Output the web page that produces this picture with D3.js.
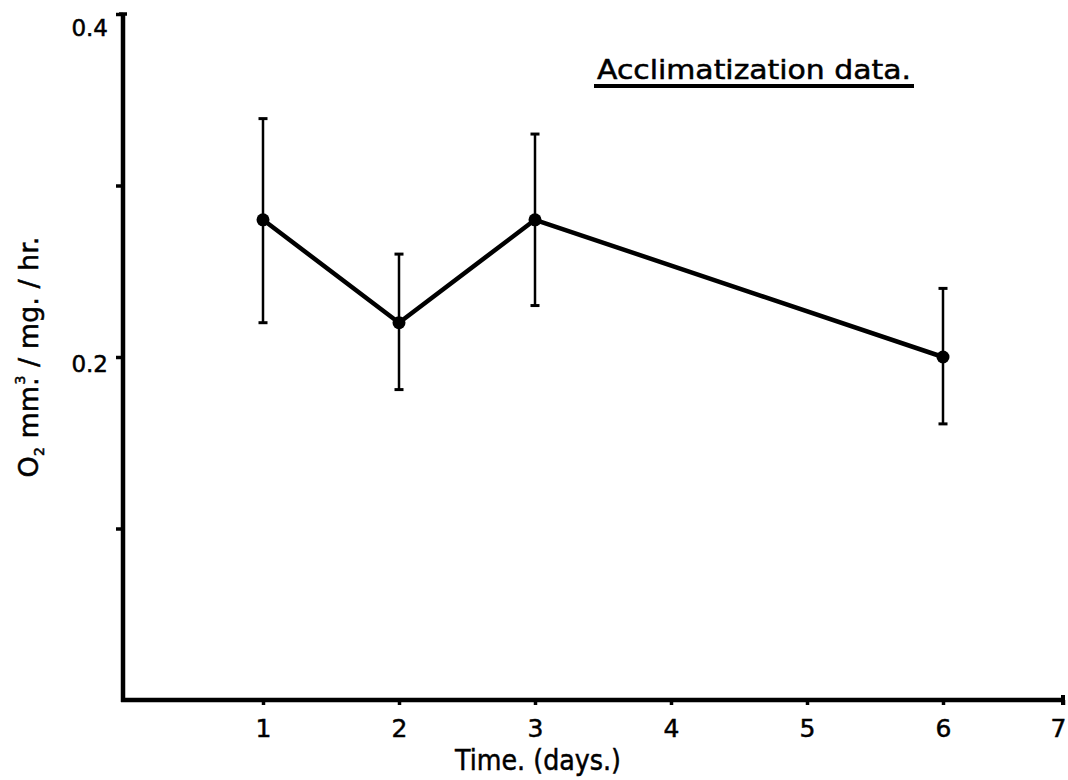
<!DOCTYPE html>
<html><head><meta charset="utf-8">
<script src="https://cdn.jsdelivr.net/npm/d3@7"></script>
<style>
html,body{margin:0;padding:0;background:#fff;}
svg{display:block;}
text{font-family:"DejaVu Sans",sans-serif;fill:#000;stroke:#000;stroke-width:0.5px;}
</style></head>
<body>
<svg id="chart" width="1068" height="780"></svg>
<script>
// ---- data ----
const days = [1, 2, 3, 6];
const o2Rate = [0.28, 0.22, 0.28, 0.20];
const errHigh = [0.339, 0.260, 0.330, 0.240];
const errLow = [0.220, 0.181, 0.230, 0.161];
const xTicks = [1, 2, 3, 4, 5, 6, 7];
const yTicks = [0.1, 0.2, 0.3, 0.4];
const yTickLabels = {0.2: "0.2", 0.4: "0.4"};
const title = "Acclimatization data.";
const xTitle = "Time. (days.)";

const svg = d3.select("#chart");
const x0 = 123, y0 = 700;
const x = d3.scaleLinear().domain([0, 6, 7]).range([127, 943, 1063]);
const y = d3.scaleLinear().domain([0, 0.4]).range([y0, 14]);

// axes lines
svg.append("line").attr("x1", x0).attr("x2", x0).attr("y1", y(0.4)).attr("y2", y0 + 2)
  .attr("stroke", "#000").attr("stroke-width", 4.5);
svg.append("line").attr("x1", x0 - 2).attr("x2", x(7)).attr("y1", y0).attr("y2", y0)
  .attr("stroke", "#000").attr("stroke-width", 4.5);

// y axis ticks
const yAxis = d3.axisLeft(y).tickValues(yTicks).tickSize(7).tickSizeOuter(0).tickPadding(8)
  .tickFormat(d => yTickLabels[d] || "");
const gy = svg.append("g").attr("transform", `translate(${x0},0)`).call(yAxis);
gy.select(".domain").remove();
gy.selectAll(".tick line").attr("stroke", "#000").attr("stroke-width", 3.5);
gy.selectAll(".tick text").attr("font-size", 23).attr("font-family", "DejaVu Sans")
  .attr("dy", d => d === 0.4 ? "0.92em" : "0.62em");

// x axis ticks
const xAxis = d3.axisBottom(x).tickValues(xTicks).tickSize(5).tickSizeOuter(0).tickPadding(14)
  .tickFormat(d3.format("d"));
const gx = svg.append("g").attr("transform", `translate(0,${y0})`).call(xAxis);
gx.select(".domain").remove();
gx.selectAll(".tick line").attr("stroke", "#000").attr("stroke-width", 3.5);
gx.selectAll(".tick text").attr("font-size", 25).attr("font-family", "DejaVu Sans")
  .attr("dy", "0.72em").attr("dx", d => d === 7 ? -5 : 0);
// end caps
svg.append("line").attr("x1", x(7)).attr("x2", x(7)).attr("y1", y0 - 5).attr("y2", y0 + 5)
  .attr("stroke", "#000").attr("stroke-width", 4);
svg.append("line").attr("x1", x0 - 4).attr("x2", x0 + 4).attr("y1", y(0.4)).attr("y2", y(0.4))
  .attr("stroke", "#000").attr("stroke-width", 3.5);

// error bars
const pts = days.map((d, i) => ({d, v: o2Rate[i], hi: errHigh[i], lo: errLow[i]}));
const eb = svg.append("g").attr("stroke", "#000");
eb.selectAll("line.bar").data(pts).join("line").attr("class", "bar")
  .attr("x1", p => x(p.d)).attr("x2", p => x(p.d))
  .attr("y1", p => y(p.hi)).attr("y2", p => y(p.lo)).attr("stroke-width", 2.5);
eb.selectAll("line.capH").data(pts).join("line").attr("class", "capH")
  .attr("x1", p => x(p.d) - 4.5).attr("x2", p => x(p.d) + 4.5)
  .attr("y1", p => y(p.hi)).attr("y2", p => y(p.hi)).attr("stroke-width", 3);
eb.selectAll("line.capL").data(pts).join("line").attr("class", "capL")
  .attr("x1", p => x(p.d) - 4.5).attr("x2", p => x(p.d) + 4.5)
  .attr("y1", p => y(p.lo)).attr("y2", p => y(p.lo)).attr("stroke-width", 3);

// line
const line = d3.line().x(p => x(p.d)).y(p => y(p.v));
svg.append("path").datum(pts).attr("d", line).attr("fill", "none")
  .attr("stroke", "#000").attr("stroke-width", 4.5).attr("stroke-linejoin", "round");
svg.selectAll("circle.pt").data(pts).join("circle").attr("class", "pt")
  .attr("cx", p => x(p.d)).attr("cy", p => y(p.v)).attr("r", 6.5).attr("fill", "#000");

// title
svg.append("text").attr("x", 597).attr("y", 79).attr("font-size", 26)
  .attr("textLength", 314).attr("lengthAdjust", "spacingAndGlyphs").text(title);
svg.append("line").attr("x1", 594).attr("x2", 914).attr("y1", 86).attr("y2", 86)
  .attr("stroke", "#000").attr("stroke-width", 4);

// x title
svg.append("text").attr("x", 455).attr("y", 770).attr("font-size", 28)
  .attr("textLength", 166).attr("lengthAdjust", "spacingAndGlyphs").text(xTitle);

// y title
const yt = svg.append("text").attr("transform", "translate(38,357) rotate(-90)")
  .attr("text-anchor", "middle").attr("font-size", 27);
yt.append("tspan").text("O");
yt.append("tspan").attr("font-size", 14).attr("dy", 6).text("2");
yt.append("tspan").attr("dy", -6).text(" mm.");
yt.append("tspan").attr("font-size", 14).attr("dy", -13).attr("dx", -7).text("3");
yt.append("tspan").attr("dy", 13).text(" / mg. / hr.");
</script>
</body></html>
